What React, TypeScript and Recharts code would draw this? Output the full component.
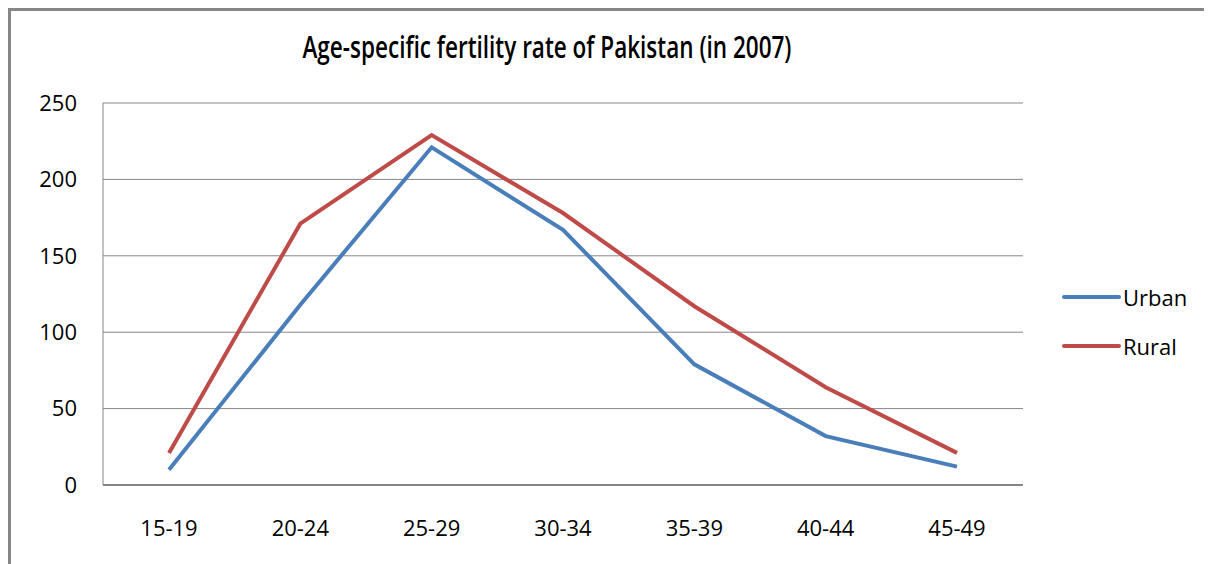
import { CartesianGrid, Legend, Line, LineChart, XAxis, YAxis } from "recharts";

// Age-specific fertility rate, Pakistan 2007 (births per 1000 women)
const ageGroups = ["15-19", "20-24", "25-29", "30-34", "35-39", "40-44", "45-49"];
const urban = [10, 118, 221, 167, 79, 32, 12];
const rural = [21, 171, 229, 178, 117, 64, 21];
const seriesNames = ["Urban", "Rural"];
const yTicks = [0, 50, 100, 150, 200, 250];

const data = ageGroups.map((age, i) => ({ age, Urban: urban[i], Rural: rural[i] }));

const FONT = "'Open Sans', sans-serif";
const GRID = "#868686";

function LegendBox({ payload }: any) {
  const items = [...(payload || [])].sort(
    (a: any, b: any) => seriesNames.indexOf(a.value) - seriesNames.indexOf(b.value)
  );
  return (
    <div style={{ fontFamily: FONT }}>
      {items.map((p: any) => (
        <div key={p.value} style={{ display: "flex", alignItems: "center", height: 49 }}>
          <svg width={61} height={10}>
            <line x1={2} x2={57} y1={5} y2={5} stroke={p.color} strokeWidth={4} strokeLinecap="round" />
          </svg>
          <span style={{ fontSize: 22, color: "#000", lineHeight: 1 }}>{p.value}</span>
        </div>
      ))}
    </div>
  );
}

export default function App() {
  return (
    <div style={{ position: "relative", width: 1204, height: 556 }}>
      <div
        style={{
          position: "absolute",
          left: 0,
          top: 0,
          width: 1204,
          height: 556,
          borderTop: `3px solid ${GRID}`,
          borderLeft: `3px solid ${GRID}`,
          boxSizing: "border-box",
        }}
      />
      <svg style={{ position: "absolute", left: 0, top: 0 }} width={1204} height={80}>
        <text
          x={539}
          y={50}
          textAnchor="middle"
          fontFamily={FONT}
          fontSize={30}
          fontWeight={600}
          textLength={489}
          lengthAdjust="spacingAndGlyphs"
          fill="#000"
        >
          Age-specific fertility rate of Pakistan (in 2007)
        </text>
      </svg>
      <div style={{ position: "absolute", left: 0, top: 0 }}>
        <LineChart
          width={1204}
          height={556}
          data={data}
          margin={{ top: 95, right: 189, left: 0, bottom: 19 }}
        >
          <CartesianGrid vertical={false} stroke={GRID} strokeWidth={1} />
          <XAxis
            dataKey="age"
            height={60}
            padding={{ left: 66, right: 66 }}
            axisLine={{ stroke: GRID, strokeWidth: 2 }}
            tickLine={false}
            tickSize={0}
            tickMargin={35}
            tick={{ fontSize: 22, fill: "#000", fontFamily: FONT }}
          />
          <YAxis
            width={95}
            domain={[0, 250]}
            ticks={yTicks}
            axisLine={{ stroke: GRID, strokeWidth: 1 }}
            tickLine={false}
            tickSize={0}
            tickMargin={26}
            tick={{ fontSize: 22, fill: "#000", fontFamily: FONT }}
          />
          <Legend
            layout="vertical"
            align="center"
            verticalAlign="middle"
            wrapperStyle={{ left: 1054, top: 264, width: 150 }}
            content={<LegendBox />}
          />
          <Line
            dataKey="Urban"
            stroke="#4A7EBB"
            strokeWidth={4}
            dot={false}
            activeDot={false}
            isAnimationActive={false}
          />
          <Line
            dataKey="Rural"
            stroke="#BE4B48"
            strokeWidth={4}
            dot={false}
            activeDot={false}
            isAnimationActive={false}
          />
        </LineChart>
      </div>
    </div>
  );
}
